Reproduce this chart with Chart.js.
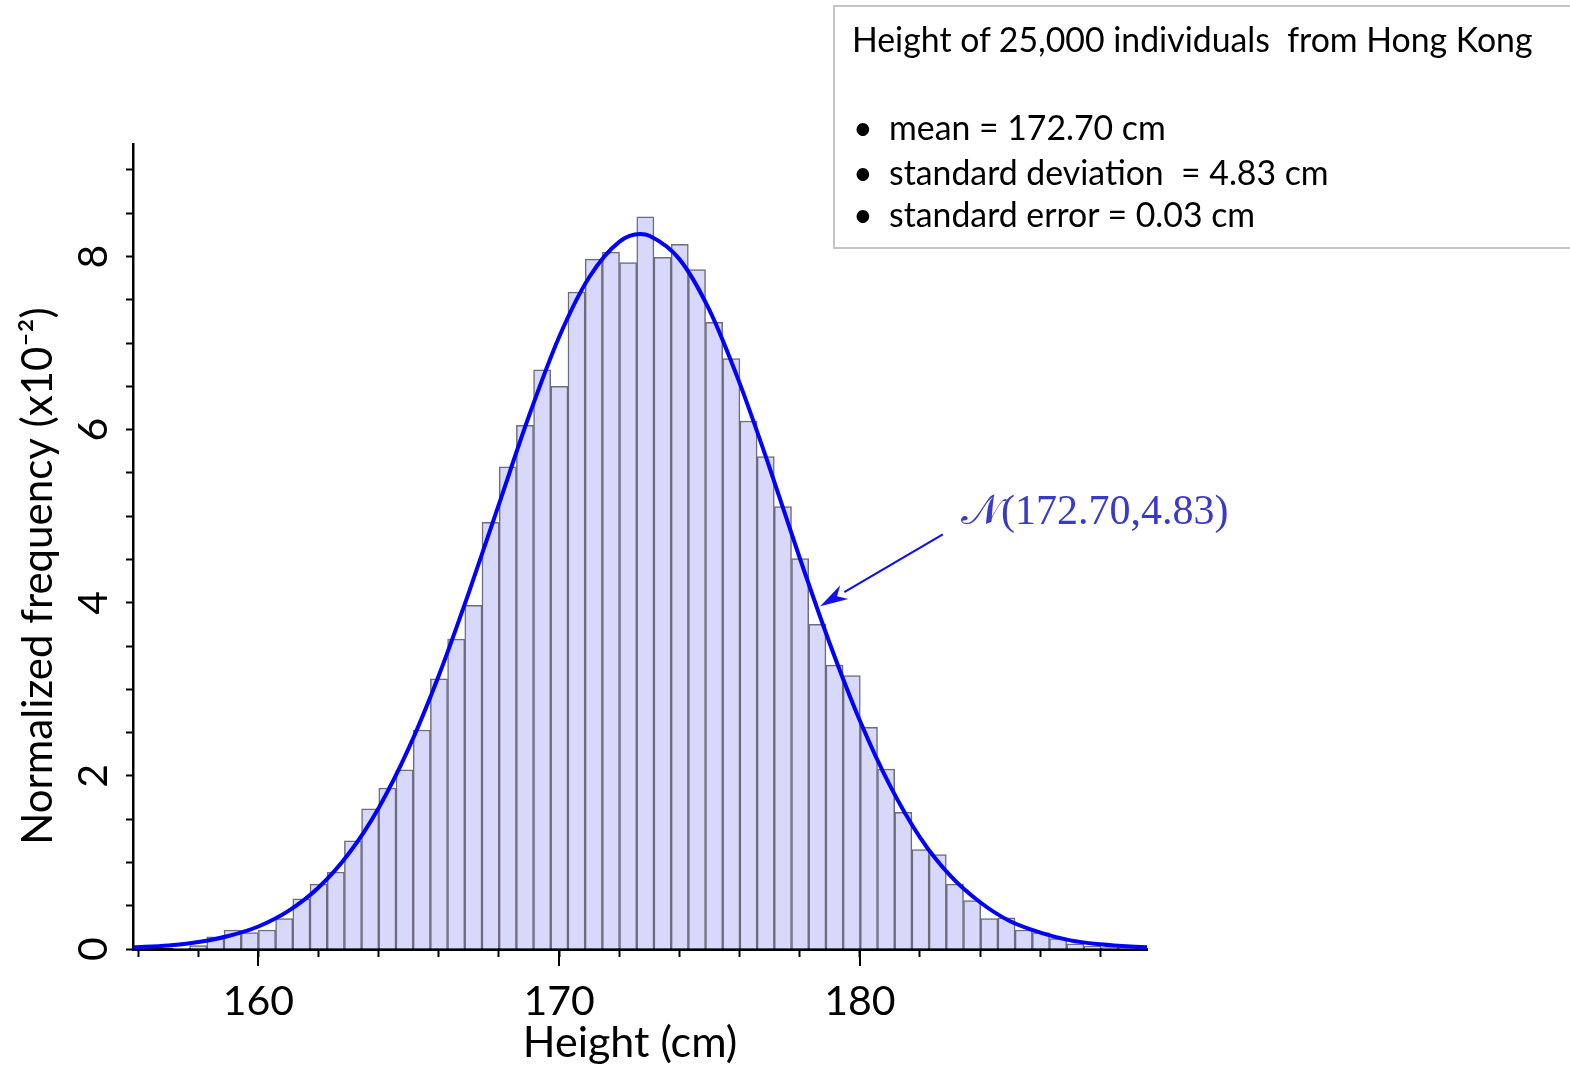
<!DOCTYPE html>
<html>
<head>
<meta charset="utf-8">
<title>Height of 25,000 individuals from Hong Kong</title>
<script src="https://cdn.jsdelivr.net/npm/chart.js@4.4.1/dist/chart.umd.min.js"></script>
<style>
  body { margin: 0; background: #fff; }
  #wrap { position: relative; width: 1570px; height: 1069px; overflow: hidden; }
  #histogram { position: absolute; left: 0; top: 0; }
  .info-box {
    position: absolute; left: 833px; top: 5px; width: 780px; height: 240px;
    border: 2px solid #c4c4c4; font-family: Lato, sans-serif; color: #000;
  }
  .info-box div { position: absolute; white-space: pre; font-size: 33.8px; line-height: 40px; }
  .info-box .dot { font-size: 34px; }
  .fit-label {
    position: absolute; left: 961px; top: 485px; white-space: pre;
    font-family: "Liberation Serif", serif; font-size: 42px; line-height: 50px; color: #3a3ac8;
  }
</style>
</head>
<body>
<div id="wrap">
  <canvas id="histogram" width="1570" height="1069"></canvas>
  <div class="info-box">
    <div style="left:17px; top:12px;">Height of 25,000 individuals  from Hong Kong</div>
    <div class="dot" style="left:18px; top:100px;">•</div>
    <div style="left:54px; top:100px;">mean = 172.70 cm</div>
    <div class="dot" style="left:18px; top:145px;">•</div>
    <div style="left:54px; top:145px;">standard deviation  = 4.83 cm</div>
    <div class="dot" style="left:18px; top:187px;">•</div>
    <div style="left:54px; top:187px;">standard error = 0.03 cm</div>
  </div>
  <div class="fit-label">𝒩(172.70,4.83)</div>
</div>
<script>
// Histogram bins (cm) and normalized frequencies (x10^-2)
const binCenters = [157.427, 157.998, 158.570, 159.142, 159.714, 160.286, 160.858, 161.430, 162.002, 162.574,
    163.146, 163.717, 164.289, 164.861, 165.433, 166.005, 166.577, 167.149, 167.721, 168.293,
    168.865, 169.436, 170.008, 170.580, 171.152, 171.724, 172.296, 172.868, 173.440, 174.012,
    174.584, 175.155, 175.727, 176.299, 176.871, 177.443, 178.015, 178.587, 179.159, 179.731,
    180.303, 180.874, 181.446, 182.018, 182.590, 183.162, 183.734, 184.306, 184.878, 185.450,
    186.022, 186.593, 187.165, 187.737, 188.309, 188.881];
const binHeights = [0.01, 0.04, 0.14, 0.22, 0.19, 0.22, 0.35, 0.58, 0.75, 0.89,
    1.25, 1.62, 1.86, 2.07, 2.53, 3.12, 3.58, 3.97, 4.93, 5.57,
    6.05, 6.69, 6.50, 7.59, 7.97, 8.05, 7.93, 8.46, 7.99, 8.14,
    7.85, 7.24, 6.82, 6.10, 5.69, 5.11, 4.51, 3.75, 3.28, 3.16,
    2.56, 2.08, 1.58, 1.15, 1.09, 0.75, 0.56, 0.35, 0.36, 0.22,
    0.19, 0.12, 0.06, 0.03, 0.015, 0.01];

// Fitted normal curve N(172.70, 4.83)
const curveX = [155.83, 157, 158, 159, 160, 161, 162, 163, 164, 165, 166, 167, 168, 169, 170, 171, 172, 172.7,
    173, 174, 175, 176, 177, 178, 179, 180, 181, 182, 183, 184, 185, 186, 187, 188, 189, 189.55];
const curveY = [0.02, 0.04, 0.08, 0.15, 0.26, 0.44, 0.71, 1.10, 1.63, 2.32, 3.16, 4.12, 5.14, 6.16, 7.07, 7.76, 8.17, 8.26,
    8.24, 7.97, 7.38, 6.54, 5.56, 4.52, 3.53, 2.64, 1.89, 1.29, 0.85, 0.54, 0.32, 0.19, 0.10, 0.055, 0.028, 0.02];

// Axis settings
const xRange = [155.83, 189.55];
const yRange = [0, 9.3];
const xMajorTicks = [160, 170, 180];
const yTitle = "Normalized frequency (x10\u207B\u00B2)";
const xTitle = "Height (cm)";

// Arrow from the curve label to the curve, in data units
const arrowTail = { x: 182.76, y: 4.79 };
const arrowTip = { x: 178.68, y: 3.96 };

const FONT = "Lato, 'Open Sans', sans-serif";

// Longer tick marks at labelled x values, axis titles and the label arrow
const extras = {
    id: "extras",
    afterDraw(chart) {
        const { ctx, scales: { x, y }, chartArea } = chart;
        ctx.save();

        ctx.strokeStyle = "#000";
        ctx.lineWidth = 2;
        xMajorTicks.forEach((v) => {
            const px = Math.round(x.getPixelForValue(v));
            ctx.beginPath();
            ctx.moveTo(px, chartArea.bottom);
            ctx.lineTo(px, chartArea.bottom + 17);
            ctx.stroke();
        });

        ctx.fillStyle = "#000";
        ctx.textAlign = "center";
        ctx.textBaseline = "middle";
        ctx.font = `43px ${FONT}`;
        ctx.fillText(xTitle, chartArea.left + 497, chartArea.bottom + 94);

        ctx.font = `42px ${FONT}`;
        ctx.translate(38, chartArea.bottom - 373);
        ctx.rotate(-Math.PI / 2);
        ctx.fillText(yTitle, 0, 0);
        ctx.restore();

        const x0 = x.getPixelForValue(arrowTail.x), y0 = y.getPixelForValue(arrowTail.y);
        const x1 = x.getPixelForValue(arrowTip.x), y1 = y.getPixelForValue(arrowTip.y);
        const ang = Math.atan2(y1 - y0, x1 - x0);
        const headLen = 28, headW = 8;
        const bx = x1 - headLen * Math.cos(ang), by = y1 - headLen * Math.sin(ang);
        ctx.save();
        ctx.strokeStyle = "#1010f0";
        ctx.fillStyle = "#1010f0";
        ctx.lineWidth = 2.2;
        ctx.beginPath();
        ctx.moveTo(x0, y0);
        ctx.lineTo(bx, by);
        ctx.stroke();
        ctx.beginPath();
        ctx.moveTo(x1, y1);
        ctx.lineTo(bx + headW * Math.sin(ang), by - headW * Math.cos(ang));
        ctx.lineTo(bx + 0.3 * headLen * Math.cos(ang), by + 0.3 * headLen * Math.sin(ang));
        ctx.lineTo(bx - headW * Math.sin(ang), by + headW * Math.cos(ang));
        ctx.closePath();
        ctx.fill();
        ctx.restore();
    },
};

const ctx = document.getElementById("histogram").getContext("2d");

new Chart(ctx, {
    type: "bar",
    data: {
        datasets: [
            {
                type: "line",
                label: "N(172.70, 4.83)",
                data: curveX.map((v, i) => ({ x: v, y: curveY[i] })),
                borderColor: "#0000ff",
                borderWidth: 4,
                pointRadius: 0,
                cubicInterpolationMode: "monotone",
                fill: false,
                order: 0,
            },
            {
                type: "bar",
                label: "Height",
                data: binCenters.map((v, i) => ({ x: v, y: binHeights[i] })),
                backgroundColor: "#d8d8fb",
                borderColor: "#6c6c7c",
                borderWidth: 1.5,
                barPercentage: 1,
                categoryPercentage: 1,
                grouped: false,
                order: 1,
            },
        ],
    },
    options: {
        responsive: false,
        animation: false,
        layout: { padding: { left: 0, top: 144, right: 423, bottom: 0 } },
        plugins: {
            legend: { display: false },
            tooltip: { enabled: false },
        },
        scales: {
            x: {
                type: "linear",
                min: xRange[0],
                max: xRange[1],
                offset: false,
                border: { color: "#000", width: 3 },
                grid: { offset: false, drawOnChartArea: false, tickLength: 8, tickWidth: 2, tickColor: "#000" },
                ticks: {
                    stepSize: 2,
                    includeBounds: false,
                    autoSkip: false,
                    maxRotation: 0,
                    padding: 20,
                    color: "#000",
                    font: { family: FONT, size: 41 },
                    callback: (v) => (v % 10 === 0 ? String(v) : ""),
                },
                afterFit: (scale) => { scale.height = 120; },
            },
            y: {
                type: "linear",
                min: yRange[0],
                max: yRange[1],
                border: { color: "#000", width: 2.5 },
                grid: { drawOnChartArea: false, tickLength: 7, tickWidth: 2, tickColor: "#000" },
                ticks: {
                    stepSize: 0.5,
                    includeBounds: false,
                    autoSkip: false,
                    minRotation: 90,
                    maxRotation: 90,
                    crossAlign: "center",
                    padding: 20,
                    color: "#000",
                    font: { family: FONT, size: 41 },
                    callback: (v) => (v % 2 === 0 ? String(v) : ""),
                },
                afterFit: (scale) => { scale.width = 133; },
            },
        },
    },
    plugins: [extras],
});
</script>
</body>
</html>
